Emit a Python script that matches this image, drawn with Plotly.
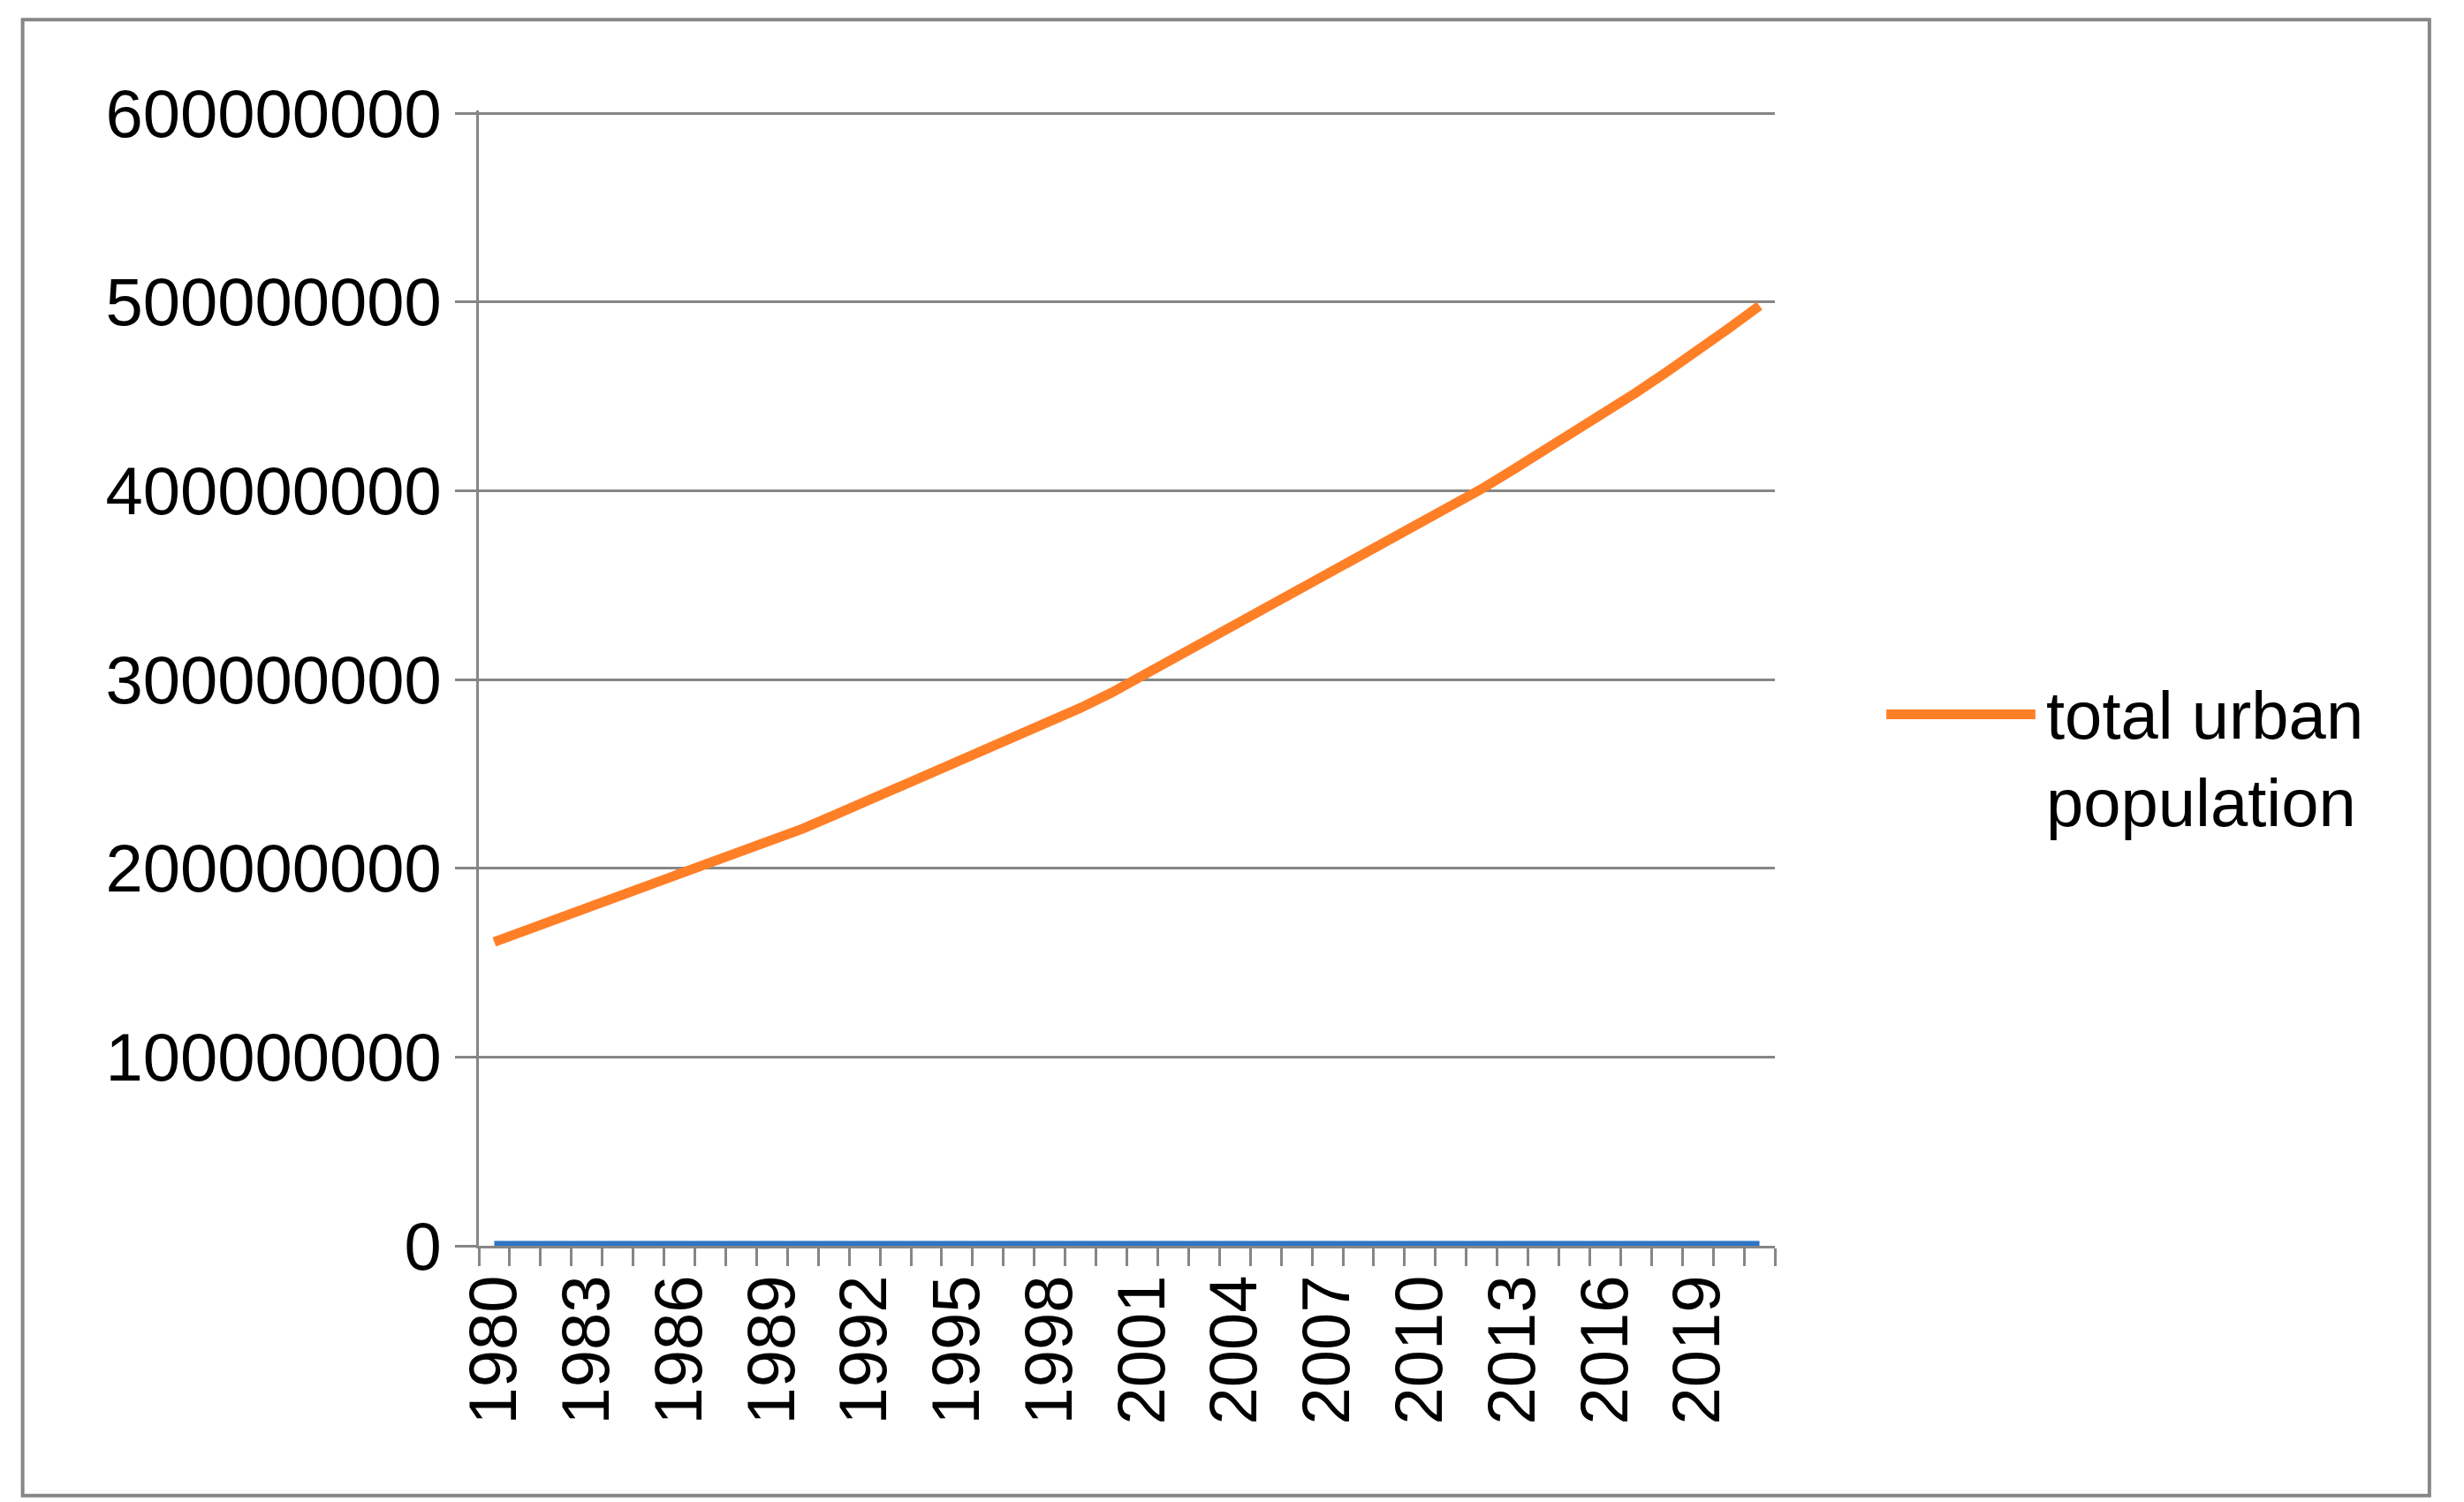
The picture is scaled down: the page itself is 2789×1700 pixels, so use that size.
import plotly.graph_objects as go

years = list(range(1980, 2022))
urban = [161e6, 167e6, 172e6, 178e6, 184e6, 190e6, 196e6, 202e6, 208e6, 215e6,
         221e6, 228e6, 235e6, 242e6, 249e6, 256e6, 263e6, 270e6, 278e6, 285e6,
         293e6, 302e6, 310e6, 319e6, 328e6, 337e6, 346e6, 355e6, 364e6, 373e6,
         382e6, 392e6, 401e6, 411e6, 421e6, 431e6, 441e6, 452e6, 463e6, 474e6,
         486e6, 498e6]
year_series = years
tick_years = list(range(1980, 2020, 3))
y_ticks = [0, 100000000, 200000000, 300000000, 400000000, 500000000, 600000000]
legend_label = "total urban<br>population"

fig = go.Figure()
fig.add_trace(go.Scatter(x=years, y=year_series, mode="lines", showlegend=False,
                         line=dict(color="#2E75C6", width=11)))
fig.add_trace(go.Scatter(x=years, y=urban, mode="lines", showlegend=False,
                         line=dict(color="#FF7F27", width=11)))

font = dict(family="Liberation Sans", size=76, color="black")
fig.update_layout(
    width=2789, height=1700, paper_bgcolor="white", plot_bgcolor="white",
    margin=dict(l=534, r=788, t=117, b=298), font=font,
    showlegend=False,
    xaxis=dict(range=[1979.5, 2021.5], tickvals=tick_years, ticktext=[str(t) for t in tick_years],
               tickangle=-90, showgrid=False, showline=True, linecolor="#868686", linewidth=3,
               ticks="", tickfont=font,
               minor=dict(tickvals=[y - 0.5 for y in range(1980, 2023)], ticks="outside",
                          ticklen=20, tickcolor="#868686", tickwidth=3)),
    yaxis=dict(range=[0, 601500000], tickvals=y_ticks, ticktext=[str(v) for v in y_ticks],
               showgrid=True, gridcolor="#868686", gridwidth=3, zeroline=False,
               showline=True, linecolor="#868686", linewidth=3,
               ticks="outside", ticklen=24, tickcolor="#868686", tickwidth=3, tickfont=font),
    shapes=[dict(type="rect", xref="paper", yref="paper", x0=-0.352, x1=1.505, y0=-0.22, y1=1.08,
                 line=dict(color="#868686", width=4)),
            dict(type="line", xref="paper", yref="paper", x0=1.086, x1=1.201, y0=0.468, y1=0.468,
                 line=dict(color="#FF7F27", width=11))],
    annotations=[dict(text=legend_label, xref="paper", yref="paper", x=1.208, y=0.429,
                      xanchor="left", yanchor="middle", align="left", showarrow=False, font=font)],
)
fig.write_html("out.html")
